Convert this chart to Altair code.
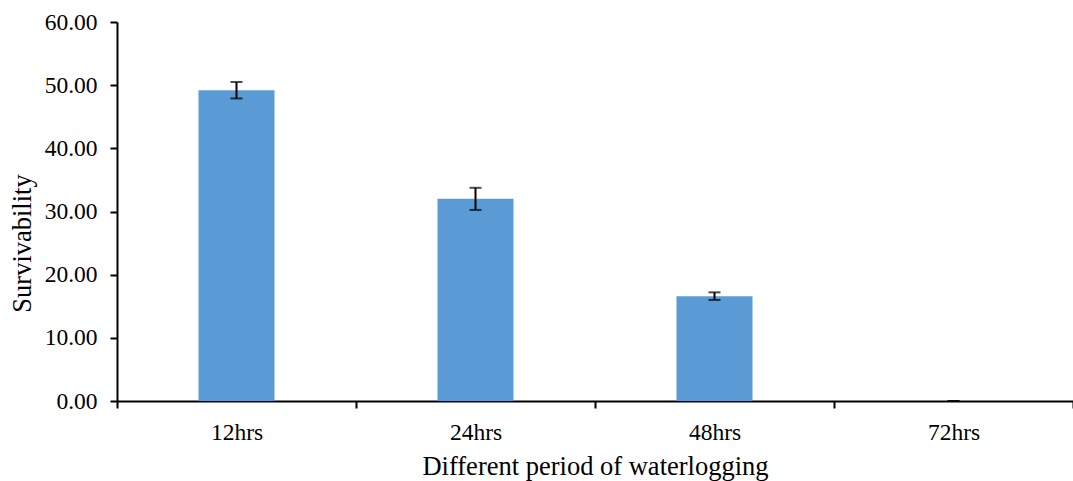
import altair as alt
import pandas as pd

categories = ["12hrs", "24hrs", "48hrs", "72hrs"]
means = [49.2, 32.0, 16.6, 0.0]
errors = [1.3, 1.75, 0.6, 0.0]

df = pd.DataFrame({"period": categories, "mean": means, "err": errors})

FONT = "Liberation Serif"

x_enc = alt.X(
    "period:N",
    sort=categories,
    scale=alt.Scale(paddingInner=0, paddingOuter=0),
    axis=alt.Axis(
        title="Different period of waterlogging",
        labelAngle=0,
        labelFont=FONT,
        labelFontSize=23.5,
        labelColor="#000000",
        labelPadding=12,
        titleFont=FONT,
        titleFontSize=26.5,
        titleFontWeight="normal",
        titleColor="#000000",
        titleY=65,
        titleBaseline="middle",
        domainColor="#000000",
        domainWidth=2,
        tickColor="#000000",
        tickWidth=2,
        tickSize=7,
        tickBand="extent",
        grid=False,
    ),
)

y_scale = alt.Scale(domain=[0, 60], nice=False)

base = alt.Chart(df).transform_calculate(
    lo="datum.mean - datum.err", hi="datum.mean + datum.err"
)

bars = base.mark_bar(color="#5B9BD5", size=76).encode(
    x=x_enc,
    y=alt.Y(
        "mean:Q",
        scale=y_scale,
        axis=alt.Axis(
            title="Survivability",
            values=[0, 10, 20, 30, 40, 50, 60],
            format=".2f",
            labelFont=FONT,
            labelFontSize=23.5,
            labelColor="#000000",
            labelPadding=13,
            titleFont=FONT,
            titleFontSize=26.5,
            titleFontWeight="normal",
            titleColor="#000000",
            titleX=-95,
            titleY=221,
            titleBaseline="middle",
            titleAngle=-90,
            domainColor="#000000",
            domainWidth=2,
            tickColor="#000000",
            tickWidth=2,
            tickSize=7,
            grid=False,
        ),
    ),
)

rules = base.mark_rule(color="#000000", strokeWidth=2).encode(
    x=alt.X("period:N", sort=categories),
    y=alt.Y("lo:Q", scale=y_scale),
    y2="hi:Q",
)

caps_hi = base.mark_tick(color="#000000", size=12, thickness=2, orient="horizontal").encode(
    x=alt.X("period:N", sort=categories),
    y=alt.Y("hi:Q", scale=y_scale),
)
caps_lo = base.mark_tick(color="#000000", size=12, thickness=2, orient="horizontal").encode(
    x=alt.X("period:N", sort=categories),
    y=alt.Y("lo:Q", scale=y_scale),
)

chart = (
    alt.layer(bars, rules, caps_hi, caps_lo)
    .properties(
        width=956,
        height=379,
        autosize=alt.AutoSizeParams(type="none"),
        padding={"left": 117, "top": 22, "right": 0, "bottom": 80},
        background="#ffffff",
    )
    .configure_view(stroke=None)
)

chart.save("out.html", embed_options={"renderer": "svg", "actions": False})
